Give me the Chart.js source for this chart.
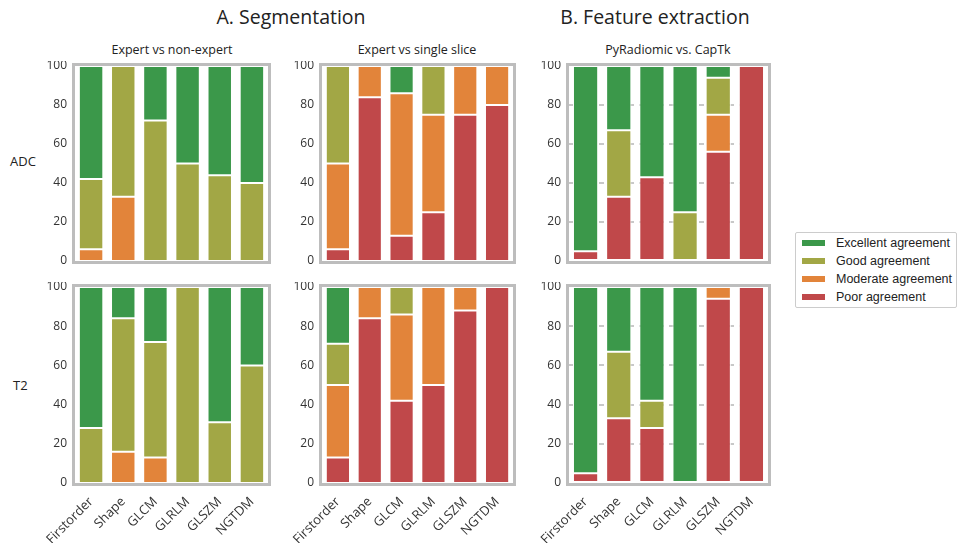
<!DOCTYPE html>
<html>
<head>
<meta charset="utf-8">
<script src="https://cdn.jsdelivr.net/npm/chart.js@4.4.0/dist/chart.umd.min.js"></script>
<style>
body { margin:0; width:959px; height:543px; background:#fff; position:relative; overflow:hidden; font-family:"Open Sans", sans-serif; color:#222; }
canvas { position:absolute; }
.title { position:absolute; font-size:19.5px; line-height:20px; transform:translateX(-50%); white-space:nowrap; }
.sub { position:absolute; font-size:12.5px; line-height:14px; transform:translateX(-50%); white-space:nowrap; }
.rowlab { position:absolute; font-size:13px; line-height:14px; }
#legend { position:absolute; left:795px; top:232px; width:162px; height:76px; border:1px solid #ccc; border-radius:2px; box-sizing:border-box; font-family:"Liberation Sans", Arial, sans-serif; font-size:12.5px; color:#222; }
#legend .item { position:absolute; left:0; height:16px; line-height:16px; white-space:nowrap; }
#legend .sw { position:absolute; left:6px; top:5px; width:23px; height:6px; }
#legend .lbl { position:absolute; left:40px; top:0; }
</style>
</head>
<body>
<div class="title" style="left:291px; top:7px;">A. Segmentation</div>
<div class="title" style="left:655px; top:7px;">B. Feature extraction</div>
<div class="sub" style="left:172px; top:43px;">Expert vs non-expert</div>
<div class="sub" style="left:417px; top:43px;">Expert vs single slice</div>
<div class="sub" style="left:668px; top:43px;">PyRadiomic vs. CapTk</div>
<div class="rowlab" style="left:10px; top:154px;">ADC</div>
<div class="rowlab" style="left:13px; top:378px;">T2</div>
<div id="legend"></div>

<canvas id="p1" width="237" height="204" style="left:35px; top:61px;"></canvas>
<canvas id="p2" width="235" height="204" style="left:282px; top:61px;"></canvas>
<canvas id="p3" width="243" height="204" style="left:529px; top:61px;"></canvas>
<canvas id="p4" width="237" height="261" style="left:35px; top:282px;"></canvas>
<canvas id="p5" width="235" height="261" style="left:282px; top:282px;"></canvas>
<canvas id="p6" width="243" height="261" style="left:529px; top:282px;"></canvas>

<script>
const categories = ["Firstorder", "Shape", "GLCM", "GLRLM", "GLSZM", "NGTDM"];
const yTicks = [0, 20, 40, 60, 80, 100];
const levels = ["Poor agreement", "Moderate agreement", "Good agreement", "Excellent agreement"];
const levelColors = ["#c0484a", "#e2843a", "#a2a745", "#3b984a"];

// ADC - expert vs non-expert (%)
const adcNonExpPoor      = [0, 0, 0, 0, 0, 0];
const adcNonExpModerate  = [6, 33, 0, 0, 0, 0];
const adcNonExpGood      = [36, 67, 72, 50, 44, 40];
const adcNonExpExcellent = [58, 0, 28, 50, 56, 60];

// ADC - expert vs single slice
const adcSlicePoor      = [6, 84, 13, 25, 75, 80];
const adcSliceModerate  = [44, 16, 73, 50, 25, 20];
const adcSliceGood      = [50, 0, 0, 25, 0, 0];
const adcSliceExcellent = [0, 0, 14, 0, 0, 0];

// ADC - PyRadiomics vs CapTk
const adcToolPoor      = [5, 33, 43, 0, 56, 100];
const adcToolModerate  = [0, 0, 0, 0, 19, 0];
const adcToolGood      = [0, 34, 0, 25, 19, 0];
const adcToolExcellent = [95, 33, 57, 75, 6, 0];

// T2 - expert vs non-expert
const t2NonExpPoor      = [0, 0, 0, 0, 0, 0];
const t2NonExpModerate  = [0, 16, 13, 0, 0, 0];
const t2NonExpGood      = [28, 68, 59, 100, 31, 60];
const t2NonExpExcellent = [72, 16, 28, 0, 69, 40];

// T2 - expert vs single slice
const t2SlicePoor      = [13, 84, 42, 50, 88, 100];
const t2SliceModerate  = [37, 16, 44, 50, 12, 0];
const t2SliceGood      = [21, 0, 14, 0, 0, 0];
const t2SliceExcellent = [29, 0, 0, 0, 0, 0];

// T2 - PyRadiomics vs CapTk
const t2ToolPoor      = [5, 33, 28, 0, 94, 100];
const t2ToolModerate  = [0, 0, 0, 0, 6, 0];
const t2ToolGood      = [0, 34, 14, 0, 0, 0];
const t2ToolExcellent = [95, 33, 58, 100, 0, 0];

// grey frame around each plot area
const framePlugin = {
    id: "frame",
    afterDatasetsDraw(chart) {
        const a = chart.chartArea;
        const c = chart.ctx;
        c.save();
        c.strokeStyle = "#bdbdbd";
        c.lineWidth = 3;
        c.strokeRect(a.left - 1.5, a.top - 1.5, a.right - a.left + 3, a.bottom - a.top + 3);
        c.restore();
    }
};

function makePanel(id, series, showX, showGrid) {
    const ctx = document.getElementById(id).getContext("2d");
    return new Chart(ctx, {
        type: "bar",
        data: {
            labels: categories,
            datasets: series.map((values, i) => ({
                label: levels[i],
                data: values.map(v => (v === 0 ? null : v)), // skip empty segments
                backgroundColor: levelColors[i],
                borderColor: "#ffffff",
                borderWidth: 1,
                borderSkipped: false,
                barPercentage: 0.76,
                categoryPercentage: 1
            }))
        },
        options: {
            responsive: false,
            animation: false,
            layout: { padding: { top: 5, right: 4, bottom: showX ? 0 : 4 } },
            plugins: { legend: { display: false }, tooltip: { enabled: false } },
            scales: {
                x: {
                    stacked: true,
                    display: showX,
                    grid: { display: false },
                    border: { display: false },
                    ticks: {
                        maxRotation: 45, minRotation: 45, padding: 3,
                        color: "#333", font: { family: "Open Sans", size: 13 }
                    },
                    afterFit(scale) {
                        scale.height = showX ? 60 : 0;
                        scale.paddingLeft = 0;
                        scale.paddingRight = 0;
                    }
                },
                y: {
                    stacked: true,
                    min: 0, max: 100,
                    grid: {
                        display: showGrid,
                        color: (c) => (c.tick && (c.tick.value === 0 || c.tick.value === 100)) ? "rgba(0,0,0,0)" : "#c8c8c8",
                        lineWidth: 2,
                        drawTicks: false
                    },
                    border: { display: false, dash: [5, 5] },
                    afterBuildTicks(scale) { scale.ticks = yTicks.map(v => ({ value: v })); },
                    ticks: { padding: 8, color: "#333", font: { family: "Open Sans", size: 12 } },
                    afterFit(scale) {
                        scale.width = 40;
                        scale.paddingTop = 0;
                        scale.paddingBottom = 0;
                    }
                }
            }
        },
        plugins: [framePlugin]
    });
}

makePanel("p1", [adcNonExpPoor, adcNonExpModerate, adcNonExpGood, adcNonExpExcellent], false, false);
makePanel("p2", [adcSlicePoor, adcSliceModerate, adcSliceGood, adcSliceExcellent], false, false);
makePanel("p3", [adcToolPoor, adcToolModerate, adcToolGood, adcToolExcellent], false, true);
makePanel("p4", [t2NonExpPoor, t2NonExpModerate, t2NonExpGood, t2NonExpExcellent], true, false);
makePanel("p5", [t2SlicePoor, t2SliceModerate, t2SliceGood, t2SliceExcellent], true, false);
makePanel("p6", [t2ToolPoor, t2ToolModerate, t2ToolGood, t2ToolExcellent], true, true);

// legend, top entry first
const legend = document.getElementById("legend");
[3, 2, 1, 0].forEach((k, row) => {
    const item = document.createElement("div");
    item.className = "item";
    item.style.top = (2 + row * 18) + "px";
    item.style.width = "100%";
    item.innerHTML = '<span class="sw" style="background:' + levelColors[k] + '"></span><span class="lbl">' + levels[k] + "</span>";
    legend.appendChild(item);
});
</script>
</body>
</html>
